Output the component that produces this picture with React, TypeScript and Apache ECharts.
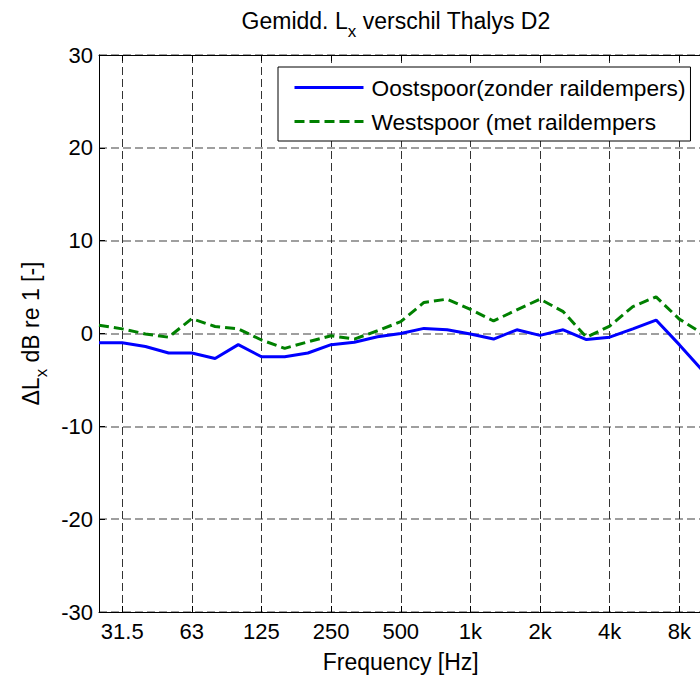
import React, { useEffect, useRef } from "react";
import * as echarts from "echarts";

const bands = ["25", "31.5", "40", "50", "63", "80", "100", "125", "160", "200", "250", "315", "400", "500", "630", "800", "1k", "1.25k", "1.6k", "2k", "2.5k", "3.15k", "4k", "5k", "6.3k", "8k", "10k"];
const oostspoor = [-1.0, -1.0, -1.4, -2.1, -2.1, -2.7, -1.2, -2.5, -2.5, -2.1, -1.2, -0.95, -0.35, 0.0, 0.55, 0.4, -0.05, -0.6, 0.4, -0.2, 0.4, -0.65, -0.4, 0.5, 1.45, -1.2, -4.0];
const westspoor = [0.9, 0.5, -0.05, -0.4, 1.6, 0.75, 0.5, -0.7, -1.6, -0.9, -0.25, -0.6, 0.3, 1.27, 3.35, 3.7, 2.6, 1.35, 2.55, 3.7, 2.35, -0.4, 0.8, 2.9, 3.95, 1.55, 0.0];
const seriesNames = ["Oostspoor(zonder raildempers)", "Westspoor (met raildempers"];

const FONT = "'Liberation Sans', Arial, Helvetica, sans-serif";
const isOctave = (i: number) => i % 3 === 1;

export default function App() {
  const ref = useRef<HTMLDivElement>(null);
  useEffect(() => {
    if (!ref.current) return;
    const chart = echarts.init(ref.current, null, { renderer: "svg" });
    const rich = {
      a: { fontSize: 23, verticalAlign: "top", fontFamily: FONT, fontWeight: "normal", color: "#000" },
      s: { fontSize: 17, verticalAlign: "top", padding: [14, 0, 0, 0], fontFamily: FONT, fontWeight: "normal", color: "#000" },
    };
    chart.setOption({
      animation: false,
      backgroundColor: "#fff",
      textStyle: { fontFamily: FONT },
      title: {
        text: "{a|Gemidd. L}{s|x}{a| verschil Thalys D2}",
        left: 396,
        top: 9,
        padding: 0,
        textAlign: "center",
        textStyle: { fontWeight: "normal", rich },
      },
      legend: {
        orient: "vertical",
        left: 278,
        top: 67,
        padding: [9, 5, 8, 15],
        itemWidth: 69,
        itemHeight: 22,
        itemGap: 11,
        backgroundColor: "#fff",
        borderColor: "#000",
        borderWidth: 1,
        borderRadius: 0,
        itemStyle: { opacity: 0, borderWidth: 0 },
        lineStyle: { width: 3 },
        textStyle: { fontSize: 22.7, color: "#000", fontFamily: FONT, padding: [0, 0, 0, 3] },
        data: seriesNames,
      },
      grid: { left: 99, right: 17.5, top: 55, bottom: 68, containLabel: false },
      xAxis: [
        {
          type: "category",
          data: bands,
          boundaryGap: false,
          name: "Frequency [Hz]",
          nameLocation: "middle",
          nameGap: 38,
          nameTextStyle: { fontSize: 23, color: "#000", fontFamily: FONT },
          axisLine: { onZero: false, lineStyle: { color: "#000", width: 1 } },
          axisTick: { inside: true, length: 6, interval: (i: number) => isOctave(i), lineStyle: { color: "#000" } },
          axisLabel: { interval: (i: number) => isOctave(i), fontSize: 22, color: "#000", margin: 8, fontFamily: FONT },
          splitLine: { show: true, interval: (i: number) => isOctave(i), lineStyle: { color: "#333", width: 1, type: [8, 4] } },
        },
        {
          type: "category",
          data: bands,
          boundaryGap: false,
          position: "top",
          axisLine: { onZero: false, lineStyle: { color: "#000", width: 1 } },
          axisTick: { inside: true, length: 6, interval: (i: number) => isOctave(i), lineStyle: { color: "#000" } },
          axisLabel: { show: false },
          splitLine: { show: false },
        },
      ],
      yAxis: {
        type: "value",
        min: -30,
        max: 30,
        interval: 10,
        name: "{a|ΔL}{s|x}{a| dB re 1 [-]}",
        nameLocation: "middle",
        nameRotate: 90,
        nameGap: 44,
        nameTextStyle: { rich },
        axisLine: { show: true, onZero: false, lineStyle: { color: "#000", width: 1 } },
        axisTick: { show: true, inside: true, length: 6, lineStyle: { color: "#000" } },
        axisLabel: { fontSize: 22, color: "#000", margin: 6, fontFamily: FONT },
        splitLine: { show: true, lineStyle: { color: "#808080", width: 1.5, type: [8, 4] } },
      },
      series: [
        {
          name: seriesNames[0],
          type: "line",
          data: oostspoor,
          symbol: "none",
          lineStyle: { color: "#0000ff", width: 3 },
          itemStyle: { color: "#0000ff" },
          z: 3,
        },
        {
          name: seriesNames[1],
          type: "line",
          data: westspoor,
          symbol: "none",
          lineStyle: { color: "#008000", width: 3, type: [10, 5] },
          itemStyle: { color: "#008000" },
          z: 2,
        },
      ],
    });
    return () => chart.dispose();
  }, []);
  return (
    <div style={{ position: "fixed", left: 0, top: 0, width: 700, height: 680, overflow: "hidden", background: "#fff" }}>
      <div ref={ref} style={{ width: 720, height: 680 }} />
    </div>
  );
}
